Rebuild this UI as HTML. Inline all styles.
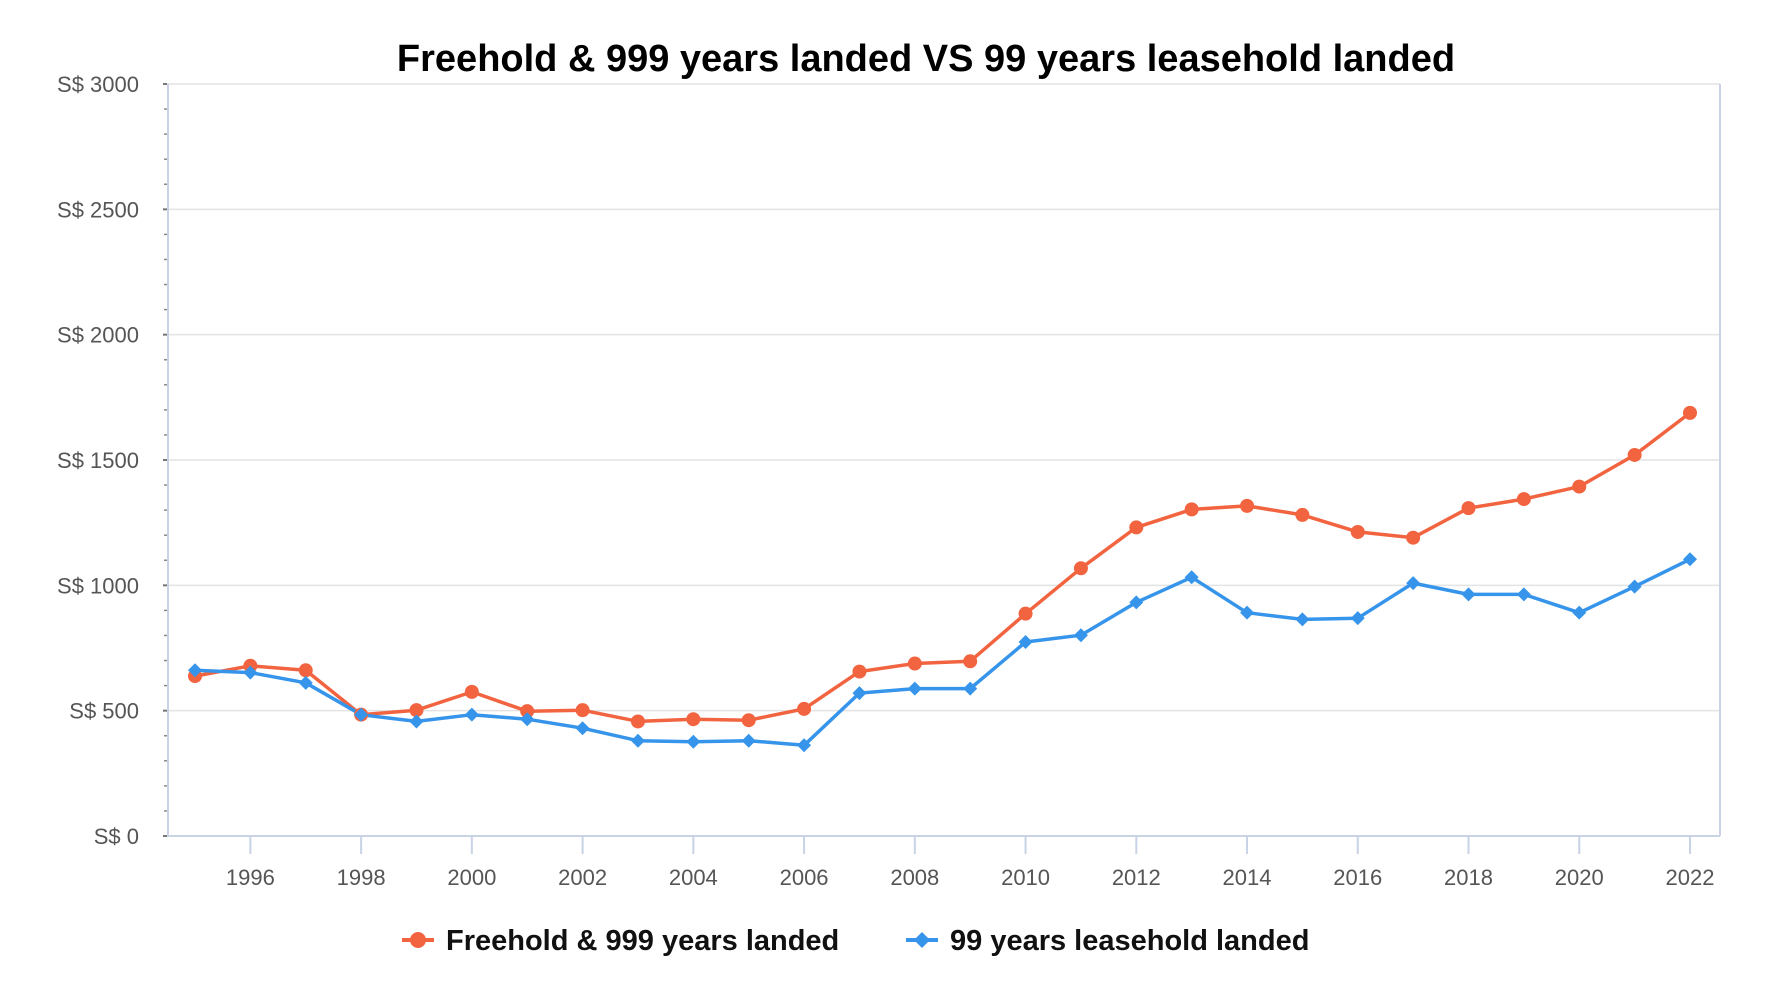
<!DOCTYPE html>
<html><head><meta charset="utf-8"><style>html,body{margin:0;padding:0;background:#fff}svg{display:block}</style></head>
<body>
<svg id="c" width="1777" height="1001" xmlns="http://www.w3.org/2000/svg" font-family="Liberation Sans, sans-serif"></svg>
<script>
const s=document.getElementById('c');
const L=167,R=1720,T=84,B=836,x0=195,dx=(1690-195)/27;
const Y=v=>B-(v/3000)*(B-T);
let h='';
h+='<text x="926" y="71" text-anchor="middle" font-size="38" font-weight="bold" fill="#000">Freehold &amp; 999 years landed VS 99 years leasehold landed</text>';
for(let i=0;i<=6;i++){const y=Y(i*500);
 if(i>0)h+=`<line x1="${L}" x2="${R}" y1="${y}" y2="${y}" stroke="#e3e3e3" stroke-width="1.5"/>`;
 h+=`<text x="139" y="${y+8}" text-anchor="end" font-size="22" fill="#555">S$ ${i*500}</text>`;
 h+=`<line x1="${L-4}" x2="${L}" y1="${y}" y2="${y}" stroke="#777" stroke-width="2"/>`;
 if(i<6)for(let k=1;k<5;k++){const yy=Y(i*500+k*100);h+=`<line x1="${L-3}" x2="${L}" y1="${yy}" y2="${yy}" stroke="#888" stroke-width="1.5"/>`;}
}
h+=`<line x1="${L+1}" x2="${L+1}" y1="${T}" y2="${B}" stroke="#c8d3e6" stroke-width="2"/>`;
h+=`<line x1="${R}" x2="${R}" y1="${T}" y2="${B}" stroke="#c8d3e6" stroke-width="2"/>`;
h+=`<line x1="${L}" x2="${R}" y1="${B}" y2="${B}" stroke="#c8d3e6" stroke-width="2"/>`;
for(let yr=1996;yr<=2022;yr+=2){const x=x0+(yr-1995)*dx;
 h+=`<line x1="${x}" x2="${x}" y1="${B}" y2="${B+18}" stroke="#c8d3e6" stroke-width="2"/>`;
 h+=`<text x="${x}" y="${B+49}" text-anchor="middle" font-size="22" fill="#555">${yr}</text>`;}
const o=[638,679,661,484,502,575,498,502,457,466,462,507,656,688,697,887,1068,1231,1303,1317,1281,1213,1190,1308,1344,1394,1520,1688];
const b=[661,652,611,484,457,484,466,430,380,376,380,362,570,588,588,774,801,932,1032,891,864,869,1009,964,964,891,995,1104];
const OC='#f26440',BC='#3695ea';
const pts=a=>a.map((v,i)=>`${(x0+i*dx).toFixed(1)},${Y(v).toFixed(1)}`).join(' ');
h+=`<polyline points="${pts(o)}" fill="none" stroke="${OC}" stroke-width="3.5" stroke-linejoin="round"/>`;
h+=`<polyline points="${pts(b)}" fill="none" stroke="${BC}" stroke-width="3.5" stroke-linejoin="round"/>`;
o.forEach((v,i)=>{h+=`<circle cx="${x0+i*dx}" cy="${Y(v)}" r="7" fill="${OC}"/>`;});
b.forEach((v,i)=>{const x=x0+i*dx,y=Y(v);h+=`<polygon points="${x},${y-7} ${x+7},${y} ${x},${y+7} ${x-7},${y}" fill="${BC}"/>`;});
h+=`<line x1="402" x2="434" y1="940" y2="940" stroke="${OC}" stroke-width="4"/><circle cx="418" cy="940" r="8" fill="${OC}"/>`;
h+=`<text x="446" y="950" font-size="29" font-weight="bold" fill="#111">Freehold &amp; 999 years landed</text>`;
h+=`<line x1="906" x2="938" y1="940" y2="940" stroke="${BC}" stroke-width="4"/><polygon points="922,932 930,940 922,948 914,940" fill="${BC}"/>`;
h+=`<text x="950" y="950" font-size="29" font-weight="bold" fill="#111">99 years leasehold landed</text>`;
s.innerHTML=h;
</script>
</body></html>
